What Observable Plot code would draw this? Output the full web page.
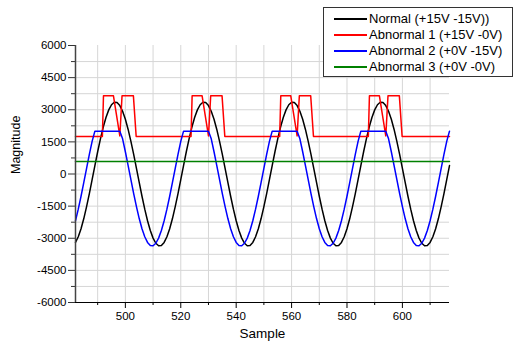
<!DOCTYPE html>
<html>
<head>
<meta charset="utf-8">
<script src="https://cdn.jsdelivr.net/npm/d3@7"></script>
<script src="https://cdn.jsdelivr.net/npm/@observablehq/plot@0.6"></script>
<style>
  html, body { margin: 0; padding: 0; background: #fff; }
  #wrap { position: relative; width: 515px; height: 341px; font-family: "Liberation Sans", Arial, sans-serif; }
  .lg-box { position: absolute; border: 1.5px solid #333; background: #fff; box-sizing: border-box; }
  .lg-line { position: absolute; height: 1.5px; }
  .lg-text { position: absolute; font-size: 13px; line-height: 16px; color: #000; white-space: nowrap; }
</style>
</head>
<body>
<div id="wrap"></div>
<script>
// ---- data ----
const sampleStart = 482, sampleEnd = 617;
const samples = d3.range(sampleStart, sampleEnd + 1);

const normal = [
  -3196, -2932, -2555, -2080, -1525, -912, -264, 395, 1038, 1642, 2182, 2639, 2994, 3234, 3350, 3337,
  3196, 2932, 2555, 2080, 1525, 912, 264, -395, -1038, -1642, -2182, -2639, -2994, -3234, -3350,
  -3337, -3196, -2932, -2555, -2080, -1525, -912, -264, 395, 1038, 1642, 2182, 2639, 2994, 3234, 3350,
  3337, 3196, 2932, 2555, 2080, 1525, 912, 264, -395, -1038, -1642, -2182, -2639, -2994, -3234, -3350,
  -3337, -3196, -2932, -2555, -2080, -1525, -912, -264, 395, 1038, 1642, 2182, 2639, 2994, 3234, 3350,
  3337, 3196, 2932, 2555, 2080, 1525, 912, 264, -395, -1038, -1642, -2182, -2639, -2994, -3234, -3350,
  -3337, -3196, -2932, -2555, -2080, -1525, -912, -264, 395, 1038, 1642, 2182, 2639, 2994, 3234, 3350,
  3337, 3196, 2932, 2555, 2080, 1525, 912, 264, -395, -1038, -1642, -2182, -2639, -2994, -3234, -3350,
  -3337, -3196, -2932, -2555, -2080, -1525, -912, -264, 395
];

const abnormal2 = [
  -2182, -1642, -1038, -395, 264, 912, 1525, 2000, 2000, 2000, 2000, 2000, 2000, 2000, 2000, 2000, 2000,
  1642, 1038, 395, -264, -912, -1525, -2080, -2555, -2932, -3196, -3337,
  -3350, -3234, -2994, -2639, -2182, -1642, -1038, -395, 264, 912, 1525, 2000, 2000, 2000, 2000, 2000,
  2000, 2000, 2000, 2000, 2000, 1642, 1038, 395, -264, -912, -1525, -2080, -2555, -2932, -3196, -3337,
  -3350, -3234, -2994, -2639, -2182, -1642, -1038, -395, 264, 912, 1525, 2000, 2000, 2000, 2000, 2000,
  2000, 2000, 2000, 2000, 2000, 1642, 1038, 395, -264, -912, -1525, -2080, -2555, -2932, -3196, -3337,
  -3350, -3234, -2994, -2639, -2182, -1642, -1038, -395, 264, 912, 1525, 2000, 2000, 2000, 2000, 2000,
  2000, 2000, 2000, 2000, 2000, 1642, 1038, 395, -264, -912, -1525, -2080, -2555, -2932, -3196, -3337,
  -3350, -3234, -2994, -2639, -2182, -1642, -1038, -395, 264, 912, 1525, 2000
];

const abnormal1X = [482, 491.7, 492.1, 495.7, 498.0, 498.8, 502.9, 503.9,
  523.7, 524.1, 527.7, 530.0, 530.8, 534.9, 535.9,
  555.7, 556.1, 559.7, 562.0, 562.8, 566.9, 567.9,
  587.7, 588.1, 591.7, 594.0, 594.8, 598.9, 599.9, 617];
const abnormal1Y = [1750, 1750, 3650, 3650, 1780, 3650, 3650, 1750,
  1750, 3650, 3650, 1780, 3650, 3650, 1750,
  1750, 3650, 3650, 1780, 3650, 3650, 1750,
  1750, 3650, 3650, 1780, 3650, 3650, 1750, 1750];

const abnormal3X = [482, 617];
const abnormal3Y = [580, 580];

const seriesNames = ["Normal (+15V -15V))", "Abnormal 1 (+15V -0V)", "Abnormal 2 (+0V -15V)", "Abnormal 3 (+0V -0V)"];
const seriesColors = ["#000000", "#ff0000", "#0000ff", "#008000"];

const yMajor = [-6000, -4500, -3000, -1500, 0, 1500, 3000, 4500, 6000];
const yMinor = [-5250, -3750, -2250, -750, 750, 2250, 3750, 5250];
const yGrid = [-5250, -4500, -3750, -3000, -2250, -1500, -750, 0, 750, 1500, 2250, 3000, 3750, 4500, 5250];
const xMajor = [500, 520, 540, 560, 580, 600];
const xMinor = [490, 510, 530, 550, 570, 590, 610];
const xGrid = [490, 500, 510, 520, 530, 540, 550, 560, 570, 580, 590, 600, 610];

// ---- build ----
const normalData = samples.map((s, i) => ({x: s, y: normal[i]}));
const ab2Data = samples.map((s, i) => ({x: s, y: abnormal2[i]}));
const ab1Data = abnormal1X.map((s, i) => ({x: s, y: abnormal1Y[i]}));
const ab3Data = abnormal3X.map((s, i) => ({x: s, y: abnormal3Y[i]}));

const chart = Plot.plot({
  width: 515,
  height: 341,
  marginLeft: 75,
  marginRight: 66,
  marginTop: 45,
  marginBottom: 39,
  x: {domain: [sampleStart, sampleEnd], label: null},
  y: {domain: [-6000, 6000], label: null},
  style: {fontFamily: "'Liberation Sans', Arial, sans-serif", fontSize: "11.5px", color: "#000", background: "#fff"},
  marks: [
    Plot.ruleY(yGrid, {stroke: "#d6d6d6", strokeWidth: 1}),
    Plot.ruleX(xGrid, {stroke: "#d6d6d6", strokeWidth: 1}),
    Plot.line(normalData, {x: "x", y: "y", stroke: seriesColors[0], strokeWidth: 1.5}),
    Plot.line(ab1Data, {x: "x", y: "y", stroke: seriesColors[1], strokeWidth: 1.5}),
    Plot.line(ab2Data, {x: "x", y: "y", stroke: seriesColors[2], strokeWidth: 1.5}),
    Plot.line(ab3Data, {x: "x", y: "y", stroke: seriesColors[3], strokeWidth: 1.5}),
    Plot.axisY(yMajor, {tickSize: 7, tickPadding: 2, tickFormat: d => String(d), label: null, stroke: "#333"}),
    Plot.axisY(yMinor, {tickSize: 4, tickFormat: () => "", label: null, stroke: "#333"}),
    Plot.axisX(xMajor, {tickSize: 6, tickPadding: 3, tickFormat: d => String(d), label: null, stroke: "#000"}),
    Plot.axisX(xMinor, {tickSize: 3, tickFormat: () => "", label: null, stroke: "#000"}),
    Plot.ruleX([sampleStart], {stroke: "#444", strokeWidth: 1.5}),
    Plot.ruleY([-6000], {stroke: "#000", strokeWidth: 1}),
    Plot.text(["Sample"], {text: d => d, frameAnchor: "bottom", lineAnchor: "middle", dy: 31, fontSize: 13.5}),
    Plot.text(["Magnitude"], {text: d => d, frameAnchor: "left", lineAnchor: "middle", dx: -60, rotate: -90, fontSize: 12.5})
  ]
});

const wrap = document.getElementById("wrap");
wrap.appendChild(chart);

// ---- legend (overlapping the top-right corner) ----
const box = document.createElement("div");
box.className = "lg-box";
Object.assign(box.style, {left: "323px", top: "7px", width: "190px", height: "70px"});
wrap.appendChild(box);
seriesNames.forEach((name, i) => {
  const cy = 19 + 16 * i;
  const ln = document.createElement("div");
  ln.className = "lg-line";
  Object.assign(ln.style, {left: "334px", top: (cy - 0.75) + "px", width: "33px", background: seriesColors[i]});
  wrap.appendChild(ln);
  const tx = document.createElement("div");
  tx.className = "lg-text";
  Object.assign(tx.style, {left: "369px", top: (cy - 8) + "px"});
  tx.textContent = name;
  wrap.appendChild(tx);
});
</script>
</body>
</html>
